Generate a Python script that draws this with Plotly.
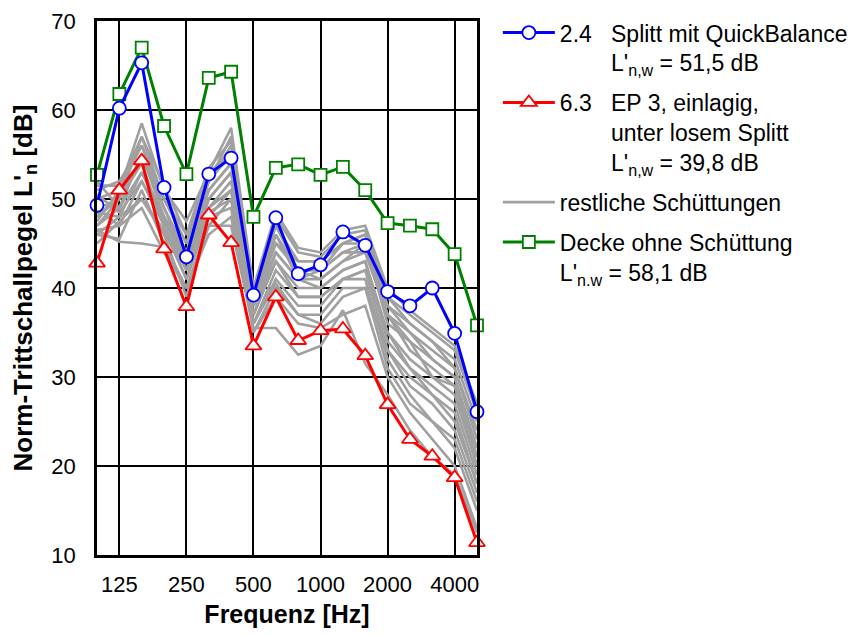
import plotly.graph_objects as go

freqs = ["100", "125", "160", "200", "250", "315", "400", "500", "630", "800",
         "1000", "1250", "1600", "2000", "2500", "3150", "4000", "5000"]
tick_labels = ["125", "250", "500", "1000", "2000", "4000"]
y_ticks = [10, 20, 30, 40, 50, 60, 70]

blue_24 = [49.3, 60.2, 65.3, 51.3, 43.5, 52.8, 54.6, 39.2, 47.9, 41.6,
           42.6, 46.3, 44.8, 39.6, 38.0, 40.0, 34.9, 26.1]
red_63 = [42.8, 51.0, 54.3, 44.4, 37.9, 48.2, 45.1, 33.5, 39.0, 34.1,
          35.2, 35.4, 32.4, 26.9, 23.0, 21.1, 18.7, 11.4]
green_decke = [52.7, 61.8, 67.0, 58.2, 52.8, 63.6, 64.3, 48.0, 53.5, 53.9,
               52.7, 53.6, 51.0, 47.3, 47.0, 46.6, 43.8, 35.8]

gray_01 = [48.0, 50.0, 57.0, 50.0, 46.0, 52.0, 56.0, 40.0, 47.0, 43.0, 43.0, 45.0, 46.0, 39.0, 36.0, 34.0, 32.0, 25.0]
gray_02 = [47.0, 49.0, 55.0, 49.0, 44.0, 51.0, 54.0, 39.0, 45.0, 42.0, 42.0, 44.0, 45.0, 38.0, 35.0, 33.0, 31.0, 23.0]
gray_03 = [46.0, 48.0, 53.0, 48.0, 43.0, 50.0, 53.0, 38.0, 44.0, 41.0, 41.0, 43.0, 44.0, 37.0, 33.0, 31.0, 29.0, 21.0]
gray_04 = [50.0, 51.0, 58.5, 51.0, 47.5, 53.0, 58.0, 40.0, 48.5, 44.5, 44.0, 46.5, 47.0, 40.0, 37.5, 35.5, 33.5, 27.0]
gray_05 = [49.0, 47.0, 52.0, 47.0, 42.0, 49.0, 52.0, 37.0, 43.0, 40.0, 40.0, 42.0, 43.0, 35.0, 31.0, 29.0, 27.0, 19.0]
gray_06 = [51.0, 52.0, 56.0, 50.0, 45.0, 53.0, 55.0, 38.0, 46.0, 42.0, 41.0, 43.0, 45.0, 36.0, 34.0, 30.0, 28.0, 20.0]
gray_07 = [46.5, 45.2, 45.0, 44.6, 40.0, 47.0, 50.0, 36.0, 41.0, 38.0, 38.0, 41.0, 42.0, 33.0, 29.0, 27.0, 24.0, 17.0]
gray_08 = [47.0, 50.0, 54.0, 47.0, 41.0, 48.0, 51.0, 35.0, 40.0, 37.0, 36.0, 39.0, 40.0, 31.0, 27.0, 25.0, 22.0, 15.0]
gray_09 = [48.5, 48.0, 50.0, 46.0, 39.0, 48.0, 49.0, 35.0, 39.0, 36.0, 35.5, 37.0, 38.0, 30.0, 26.0, 23.0, 20.0, 13.0]
gray_10 = [46.0, 45.5, 51.0, 45.0, 40.0, 47.0, 47.0, 35.5, 35.5, 32.5, 33.5, 37.5, 31.5, 28.0, 24.0, 21.0, 19.0, 12.5]
gray_11 = [52.0, 49.0, 55.0, 48.0, 42.0, 50.0, 53.0, 37.0, 44.0, 41.0, 42.0, 44.0, 44.0, 37.0, 35.0, 32.0, 30.0, 22.0]
gray_12 = [47.5, 51.0, 56.0, 49.0, 43.0, 51.0, 54.0, 38.0, 45.0, 43.0, 43.0, 45.0, 46.0, 38.0, 36.0, 34.0, 31.0, 24.0]
gray_13 = [49.5, 49.0, 53.0, 48.0, 44.0, 52.0, 55.0, 39.0, 46.0, 41.0, 40.0, 42.0, 43.0, 34.0, 31.0, 28.0, 25.0, 18.0]
gray_14 = [46.5, 47.0, 49.0, 44.0, 40.0, 46.0, 48.0, 36.0, 42.0, 39.0, 39.0, 41.0, 41.0, 32.0, 28.0, 25.0, 23.0, 16.0]
gray_15 = [48.0, 50.5, 54.5, 50.0, 45.0, 52.0, 57.0, 39.0, 47.0, 42.0, 42.0, 45.0, 45.0, 37.0, 34.0, 32.0, 30.0, 21.0]
gray_16 = [50.5, 48.5, 52.0, 47.5, 43.0, 49.0, 51.0, 37.0, 43.0, 39.0, 39.0, 41.0, 42.0, 35.0, 32.0, 30.0, 29.0, 20.0]
gray_17 = [45.0, 47.5, 50.0, 46.5, 41.0, 48.5, 50.0, 36.0, 40.5, 37.0, 37.0, 40.0, 40.0, 33.0, 30.0, 28.0, 26.0, 18.0]
gray_18 = [51.5, 51.5, 57.0, 51.5, 46.0, 53.5, 56.5, 39.5, 48.0, 44.0, 43.5, 46.0, 46.5, 39.0, 37.0, 35.0, 33.0, 26.0]
gray_series = [gray_01, gray_02, gray_03, gray_04, gray_05, gray_06, gray_07, gray_08, gray_09,
               gray_10, gray_11, gray_12, gray_13, gray_14, gray_15, gray_16, gray_17, gray_18]

name_blue = "2.4&nbsp;&nbsp;&nbsp;Splitt mit QuickBalance<br>" + "&nbsp;" * 8 + "L'<sub>n,w</sub> = 51,5 dB"
name_red = ("6.3&nbsp;&nbsp;&nbsp;EP 3, einlagig,<br>" + "&nbsp;" * 8 + "unter losem Splitt<br>"
            + "&nbsp;" * 8 + "L'<sub>n,w</sub> = 39,8 dB")
name_gray = "restliche Schüttungen"
name_green = "Decke ohne Schüttung<br>L'<sub>n.w</sub> = 58,1 dB"

FONT = "Liberation Sans, Arial, sans-serif"
GRAY = "rgb(160,160,160)"

fig = go.Figure()
for i, g in enumerate(gray_series):
    fig.add_trace(go.Scatter(
        x=freqs, y=g, mode="lines", name=name_gray,
        line=dict(color=GRAY, width=2.6),
        legendgroup="gray", showlegend=(i == 0), legendrank=3, cliponaxis=False))

fig.add_trace(go.Scatter(
    x=freqs, y=green_decke, mode="lines+markers", name=name_green,
    line=dict(color="rgb(0,128,0)", width=3),
    marker=dict(symbol="square", size=12, color="white", line=dict(color="rgb(0,128,0)", width=1.8)),
    legendgroup="green", legendrank=4, cliponaxis=False))
fig.add_trace(go.Scatter(
    x=freqs, y=red_63, mode="lines+markers", name=name_red,
    line=dict(color="rgb(255,0,0)", width=3),
    marker=dict(symbol="triangle-up", size=14, color="white", line=dict(color="rgb(255,0,0)", width=1.8)),
    legendgroup="red", legendrank=2, cliponaxis=False))
fig.add_trace(go.Scatter(
    x=freqs, y=blue_24, mode="lines+markers", name=name_blue,
    line=dict(color="rgb(0,0,255)", width=3),
    marker=dict(symbol="circle", size=13, color="white", line=dict(color="rgb(0,0,255)", width=1.8)),
    legendgroup="blue", legendrank=1, cliponaxis=False))

# The page body adds an 8 px offset; size and margins compensate for it.
fig.update_layout(
    width=849, height=628,
    margin=dict(l=89, r=380, t=13, b=81, autoexpand=False),
    paper_bgcolor="white", plot_bgcolor="white",
    font=dict(family=FONT, size=22, color="black"),
    showlegend=True,
    legend=dict(
        xref="container", yref="container",
        x=0.577, xanchor="left", y=0.995, yanchor="top",
        traceorder="grouped", tracegroupgap=7,
        itemwidth=52, valign="top",
        font=dict(family=FONT, size=23, color="black"),
        bgcolor="rgba(0,0,0,0)",
    ),
    xaxis=dict(
        type="category", categoryorder="array", categoryarray=freqs,
        range=[0, 17], tickmode="array", tickvals=tick_labels, ticktext=tick_labels,
        showgrid=True, gridcolor="black", gridwidth=1.5,
        showline=True, linecolor="black", linewidth=2.5, mirror=True,
        ticks="", ticklabelstandoff=8, automargin=False,
        tickfont=dict(size=22),
        title=dict(text="<b>Frequenz [Hz]</b>", font=dict(size=25), standoff=10),
        zeroline=False,
    ),
    yaxis=dict(
        range=[10, 70], tickmode="array", tickvals=y_ticks,
        showgrid=True, gridcolor="black", gridwidth=1.5,
        showline=True, linecolor="black", linewidth=2.5, mirror=True,
        ticks="", ticklabelstandoff=14, automargin=False,
        tickfont=dict(size=22),
        title=dict(text="<b>Norm-Trittschallpegel L'<sub>n</sub> [dB]</b>", font=dict(size=26), standoff=14),
        zeroline=False,
    ),
)

fig.write_html("out.html")
